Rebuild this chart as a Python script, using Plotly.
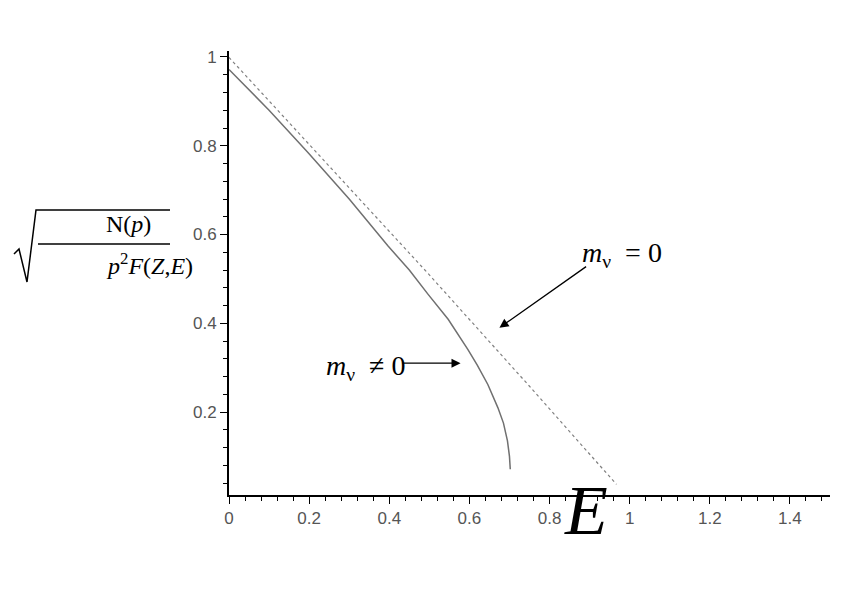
import plotly.graph_objects as go

# curve
e_massive = [0.0, 0.1, 0.197, 0.3, 0.397, 0.45, 0.497, 0.547, 0.596, 0.62, 0.646, 0.671, 0.685, 0.695, 0.70, 0.702]
k_massive = [0.972, 0.880, 0.785, 0.680, 0.574, 0.520, 0.465, 0.409, 0.341, 0.305, 0.262, 0.210, 0.175, 0.135, 0.100, 0.071]

e_massless = [0.0, 0.25, 0.497, 0.75, 0.967]
k_massless = [0.999, 0.755, 0.512, 0.258, 0.037]

fig = go.Figure()
fig.add_trace(go.Scatter(x=e_massive, y=k_massive, mode="lines", line=dict(color="#707070", width=1.5)))
fig.add_trace(go.Scatter(x=e_massless, y=k_massless, mode="lines", line=dict(color="#808080", width=1.2, dash="dot")))

tick_font = dict(family="Liberation Sans, Arial", size=17, color="#555555")
fig.update_layout(
    width=850, height=592,
    plot_bgcolor="white", paper_bgcolor="white",
    showlegend=False,
    margin=dict(l=221, r=28, t=43, b=105),
    xaxis=dict(range=[0, 1.5], tickvals=[0, 0.2, 0.4, 0.6, 0.8, 1, 1.2, 1.4],
               ticktext=["0", "0.2", "0.4", "0.6", "0.8", "1", "1.2", "1.4"],
               showgrid=False, zeroline=False, showline=True, linecolor="black", linewidth=2,
               ticks="outside", ticklen=7, tickcolor="black", tickfont=tick_font,
               minor=dict(dtick=0.04, tick0=0, ticks="outside", ticklen=4, tickcolor="black")),
    yaxis=dict(range=[0.013, 1.0135], tickvals=[0.2, 0.4, 0.6, 0.8, 1],
               ticktext=["0.2", "0.4", "0.6", "0.8", "1"],
               showgrid=False, zeroline=False, showline=True, linecolor="black", linewidth=2,
               ticks="outside", ticklen=7, tickcolor="black", tickfont=tick_font,
               minor=dict(dtick=0.04, tick0=0, ticks="outside", ticklen=4, tickcolor="black")),
)

serif = "Liberation Serif, Times New Roman"

# plot area spans pixels x 221..822, y 43..487
def paper_xy(px, py):
    return (px - 221) / 601, (487 - py) / 444

# y-axis label: sqrt of fraction
for txt, py in [("N(<i>p</i>)", 216), ("<i>p</i><sup>2</sup><i>F</i>(<i>Z</i>,<i>E</i>)", 256)]:
    x, y = paper_xy(96, py)
    fig.add_annotation(text=txt, x=x, y=y, xref="paper", yref="paper", showarrow=False,
                       font=dict(family=serif, size=24, color="black"))
x0, y0 = paper_xy(30, 236)
x1, y1 = paper_xy(162, 236)
fig.add_shape(type="line", x0=x0, y0=y0, x1=x1, y1=y1, xref="paper", yref="paper", line=dict(color="black", width=1.5))
pts = [paper_xy(6, 246), paper_xy(11, 241), paper_xy(19, 274), paper_xy(28, 202), paper_xy(162, 202)]
path = "M " + " L ".join(f"{a},{b}" for a, b in pts)
fig.add_shape(type="path", path=path, xref="paper", yref="paper", line=dict(color="black", width=1.5))

# big E label
x, y = paper_xy(578, 543)
fig.add_annotation(text="<i>E</i>", x=x, y=y, xref="paper", yref="paper", showarrow=False,
                   font=dict(family=serif, size=70, color="black"))

# curve labels with arrows
fig.add_annotation(text="<i>m</i><sub>ν</sub>  = 0", x=0.98, y=0.555, xref="x", yref="y",
                   showarrow=False, font=dict(family=serif, size=28, color="black"))
fig.add_annotation(x=0.675, y=0.39, xref="x", yref="y", ax=0.895, ay=0.53, axref="x", ayref="y",
                   showarrow=True, arrowhead=2, arrowsize=1.4, arrowwidth=1.3, arrowcolor="black", text="")
fig.add_annotation(text="<i>m</i><sub>ν</sub>  ≠ 0", x=0.34, y=0.3, xref="x", yref="y",
                   showarrow=False, font=dict(family=serif, size=28, color="black"))
fig.add_annotation(x=0.578, y=0.31, xref="x", yref="y", ax=0.43, ay=0.31, axref="x", ayref="y",
                   showarrow=True, arrowhead=2, arrowsize=1.4, arrowwidth=1.3, arrowcolor="black", text="")

fig.write_html("out.html")
